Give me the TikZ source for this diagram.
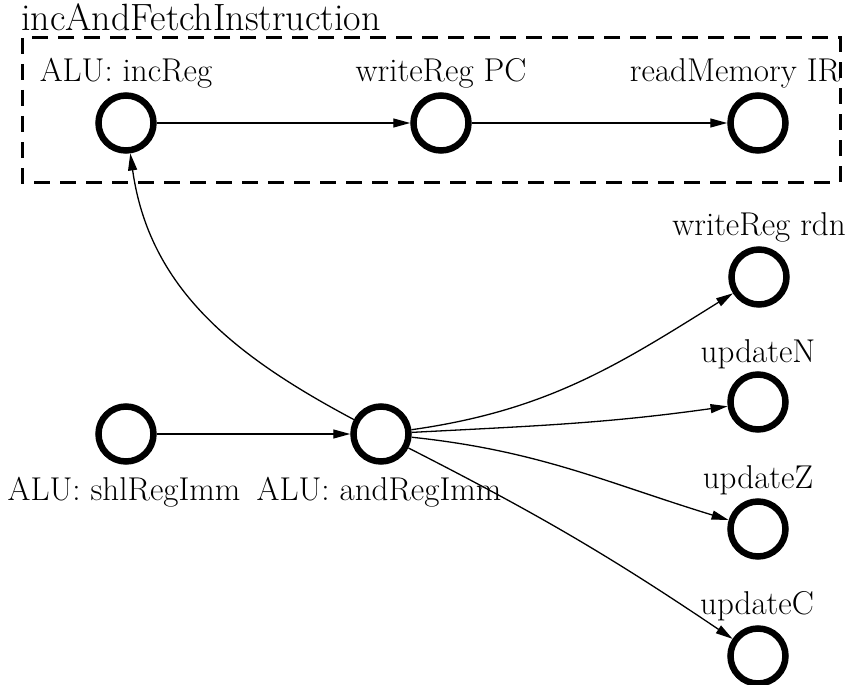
\documentclass[tikz,border=0pt]{standalone}
\usetikzlibrary{arrows.meta}
\begin{document}
\begin{tikzpicture}[x=1pt,y=-1pt,
  state/.style={circle,draw,line width=6.5pt,minimum size=55pt,inner sep=0pt},
  lbl/.style={font=\fontsize{33}{38}\selectfont,anchor=base,inner sep=0pt},
  edge/.style={line width=1.3pt,-{Triangle[length=17pt,width=9pt]}},
  grp/.style={draw,dash pattern=on 16pt off 10pt,line width=3pt}]
\useasboundingbox (0,0) rectangle (847,685);
\draw[grp] (22,38) rectangle (840,182);
\node[anchor=base west,inner sep=0pt,font=\fontsize{38}{44}\selectfont] (title) at (21,31) {incAndFetchInstruction};

\node[state] (inc) at (126,123) {};
\node[state] (wpc) at (441,123) {};
\node[state] (rir) at (758,123) {};
\node[state] (wrd) at (759,277) {};
\node[state] (un) at (758,402) {};
\node[state] (shl) at (126,434) {};
\node[state] (andr) at (381,434) {};
\node[state] (uz) at (758,529) {};
\node[state] (uc) at (758,656) {};

\node[lbl] (linc) at (126,82) {ALU: incReg};
\node[lbl] (lwpc) at (441,82) {writeReg PC};
\node[lbl] (lrir) at (735,82) {readMemory IR};
\node[lbl] (lwrd) at (759,235) {writeReg rdn};
\node[lbl] (lun) at (758,362) {updateN};
\node[lbl] (luz) at (758,488) {updateZ};
\node[lbl] (luc) at (757,614) {updateC};
\node[lbl] (lshl) at (124,500) {ALU: shlRegImm};
\node[lbl] (land) at (379,500) {ALU: andRegImm};

\draw[edge] (inc) -- (wpc);
\draw[edge] (wpc) -- (rir);
\draw[edge] (shl) -- (andr);
\draw[edge] (andr) to[out=152,in=-82] (inc);
\draw[edge] (andr) to[out=8,in=212] (wrd);
\draw[edge] (andr) to[out=3,in=188] (un);
\draw[edge] (andr) to[out=-6,in=163] (uz);
\draw[edge] (andr) to[out=-27,in=146] (uc);
\end{tikzpicture}
\end{document}
